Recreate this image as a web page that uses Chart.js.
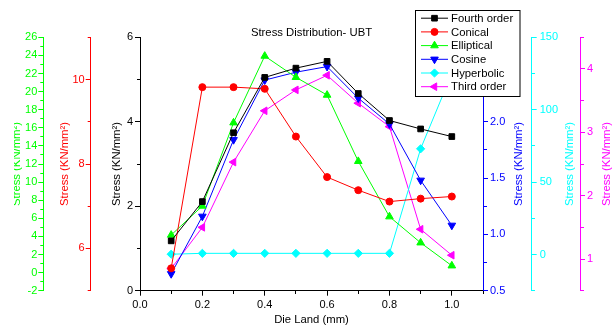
<!DOCTYPE html>
<html><head><meta charset="utf-8">
<script src="https://cdn.jsdelivr.net/npm/chart.js@4.4.0/dist/chart.umd.min.js"></script>
<style>html,body{margin:0;padding:0;background:#fff;overflow:hidden}#wrap{position:relative;width:613px;height:328px}</style>
</head><body><div id="wrap"><canvas id="c" width="613" height="328"></canvas></div>
<script>
// ---- data ----
const dieLand = [0.1, 0.2, 0.3, 0.4, 0.5, 0.6, 0.7, 0.8, 0.9, 1.0];
const fourthOrder = [1.18, 2.11, 3.74, 5.05, 5.27, 5.43, 4.67, 4.03, 3.83, 3.65];
const conical = [5.53, 9.82, 9.82, 9.78, 8.65, 7.69, 7.38, 7.11, 7.18, 7.23];
const elliptical = [4.15, 7.36, 16.56, 23.93, 21.58, 19.62, 12.3, 6.18, 3.3, 0.76];
const cosine = [0.65, 1.16, 1.84, 2.37, 2.44, 2.49, 2.21, 1.98, 1.48, 1.08];
const hyperbolic = [0.2, 0.8, 0.8, 0.8, 0.8, 0.8, 0.8, 0.8, 73, 125];
const thirdOrder = [0.85, 1.5, 2.53, 3.34, 3.67, 3.9, 3.46, 3.09, 1.47, 1.06];
const seriesNames = ['Fourth order', 'Conical', 'Elliptical', 'Cosine', 'Hyperbolic', 'Third order'];
const chartTitle = 'Stress Distribution- UBT';
const xTitle = 'Die Land (mm)';
const yTitle = 'Stress (KN/mm\u00B2)';
// axis ranges / ticks
const xTicks = [0, 0.1, 0.2, 0.3, 0.4, 0.5, 0.6, 0.7, 0.8, 0.9, 1.0, 1.1];
const xLabels = ['0.0', '', '0.2', '', '0.4', '', '0.6', '', '0.8', '', '1.0', ''];
const blackTicks = [0, 1, 2, 3, 4, 5, 6];
const blackLabels = ['0', '', '2', '', '4', '', '6'];
const redTicks = [5, 6, 7, 8, 9, 10, 11];
const redLabels = ['', '6', '', '8', '', '10', ''];
const greenTicks = [-2,-1,0,1,2,3,4,5,6,7,8,9,10,11,12,13,14,15,16,17,18,19,20,21,22,23,24,25,26];
const greenLabels = greenTicks.map(v => (v % 2 === 0 ? String(v) : ''));
const blueTicks = [0.5, 0.75, 1.0, 1.25, 1.5, 1.75, 2.0, 2.25, 2.5, 2.75];
const blueLabels = ['0.5', '', '1.0', '', '1.5', '', '2.0', '', '2.5', ''];
const cyanTicks = [-25, 0, 25, 50, 75, 100, 125, 150];
const cyanLabels = ['', '0', '', '50', '', '100', '', '150'];
const magentaTicks = [0.5, 1, 1.5, 2, 2.5, 3, 3.5, 4, 4.5];
const magentaLabels = ['', '1', '', '2', '', '3', '', '4', ''];

const FONT = '"Liberation Sans", Arial, Helvetica, sans-serif';
const C = { black:'#000000', red:'#ff0000', green:'#00ff00', blue:'#0000ff', cyan:'#00ffff', magenta:'#ff00ff' };

function yAxis(color, pos, weight, min, max, ticks, labels, width, pad) {
  return {
    type: 'linear', position: pos, weight: weight, min: min, max: max,
    afterBuildTicks: s => { s.ticks = ticks.map(v => ({ value: v })); },
    afterFit: s => { s.width = width; },
    ticks: {
      autoSkip: false, color: color, padding: pad,
      font: { family: FONT, size: 11 },
      callback: (v, i) => labels[i]
    },
    grid: {
      drawOnChartArea: false, tickLength: 5, tickColor: color, color: color,
      tickBorderDash: c => (c.tick && labels[c.index] === '' ? (pos === 'left' ? [0, 2, 3, 100] : [3, 100]) : [])
    },
    border: { color: color, width: 1 }
  };
}

function mk(arr, name, color, style, rot, r, axis) {
  return {
    label: name, yAxisID: axis,
    data: dieLand.map((x, i) => ({ x: x, y: arr[i] })),
    borderColor: color, backgroundColor: color, borderWidth: 1,
    pointStyle: style, pointRotation: rot, pointRadius: r, pointHoverRadius: r,
    pointBackgroundColor: color, pointBorderColor: color, pointBorderWidth: 1,
    fill: false, tension: 0
  };
}

const datasets = [
  mk(fourthOrder, seriesNames[0], C.black, 'rect', 0, 4.0, 'yBlack'),
  mk(conical, seriesNames[1], C.red, 'circle', 0, 3.5, 'yRed'),
  mk(elliptical, seriesNames[2], C.green, 'triangle', 0, 4.4, 'yGreen'),
  mk(cosine, seriesNames[3], C.blue, 'triangle', 180, 4.4, 'yBlue'),
  mk(hyperbolic, seriesNames[4], C.cyan, 'rectRot', 0, 4.1, 'yCyan'),
  mk(thirdOrder, seriesNames[5], C.magenta, 'triangle', -90, 4.4, 'yMagenta')
];

// title placement (style)
const axisTitleStyle = [
  { axis: 'yBlack', color: C.black, dx: -20.5 },
  { axis: 'yRed', color: C.red, dx: -22.7 },
  { axis: 'yGreen', color: C.green, dx: -23.8, clipLeft: 14 },
  { axis: 'yBlue', color: C.blue, dx: 38.5 },
  { axis: 'yCyan', color: C.cyan, dx: 41.3 },
  { axis: 'yMagenta', color: C.magenta, dx: 30 }
];

function drawMarker(ctx, ds, x, y) {
  const opts = { pointStyle: ds.pointStyle, rotation: ds.pointRotation, radius: ds.pointRadius, borderWidth: 1 };
  ctx.fillStyle = ds.pointBackgroundColor; ctx.strokeStyle = ds.pointBorderColor; ctx.lineWidth = 1;
  Chart.helpers.drawPoint(ctx, opts, x, y);
}

const deco = {
  id: 'deco',
  afterDraw(chart) {
    const ctx = chart.ctx, a = chart.chartArea;
    const cx = (a.left + a.right) / 2, cy = (a.top + a.bottom) / 2;
    ctx.save();
    ctx.font = '11.3px ' + FONT;
    ctx.fillStyle = '#000';
    ctx.textAlign = 'center'; ctx.textBaseline = 'alphabetic';
    ctx.fillText(chartTitle, cx, a.top - 1.0);
    ctx.fillText(xTitle, cx, 323);
    axisTitleStyle.forEach(t => {
      const s = chart.scales[t.axis];
      const axX = s.position === 'left' ? s.right : s.left;
      ctx.save();
      if (t.clipLeft) { ctx.beginPath(); ctx.rect(t.clipLeft, 0, 613, 328); ctx.clip(); }
      ctx.translate(axX + t.dx, cy);
      ctx.rotate(-Math.PI / 2);
      ctx.fillStyle = t.color;
      ctx.textAlign = 'center'; ctx.textBaseline = 'alphabetic';
      ctx.fillText(yTitle, 0, 0);
      ctx.restore();
    });
    // legend
    const L = { x: 415, y: 10, w: 104.5, h: 86, row: 13.7, first: 18.2 };
    ctx.fillStyle = '#fff';
    ctx.fillRect(L.x, L.y, L.w, L.h);
    ctx.strokeStyle = '#000'; ctx.lineWidth = 1;
    ctx.strokeRect(L.x + 0.5, L.y + 0.5, L.w, L.h);
    chart.data.datasets.forEach((ds, i) => {
      const y = L.first + i * L.row;
      ctx.strokeStyle = ds.borderColor; ctx.lineWidth = 1;
      ctx.beginPath(); ctx.moveTo(L.x + 6, y); ctx.lineTo(L.x + 33, y); ctx.stroke();
      drawMarker(ctx, ds, L.x + 19.5, y);
      ctx.fillStyle = '#000'; ctx.font = '11.3px ' + FONT;
      ctx.textAlign = 'left'; ctx.textBaseline = 'middle';
      ctx.fillText(ds.label, L.x + 36, y + 0.5);
    });
    ctx.restore();
  }
};

new Chart(document.getElementById('c'), {
  type: 'line',
  data: { datasets: datasets },
  options: {
    responsive: false, animation: false, devicePixelRatio: 1,
    layout: { padding: { top: 37.3, left: 0, right: 0, bottom: 0 } },
    plugins: { legend: { display: false }, tooltip: { enabled: false }, title: { display: false } },
    scales: {
      x: {
        type: 'linear', position: 'bottom', min: 0, max: 1.1,
        afterBuildTicks: s => { s.ticks = xTicks.map(v => ({ value: v })); },
        afterFit: s => { s.height = 37.3; },
        ticks: { autoSkip: false, maxRotation: 0, color: '#000', padding: 3, font: { family: FONT, size: 11 },
                 callback: (v, i) => xLabels[i] },
        grid: { drawOnChartArea: false, tickLength: 5, tickColor: '#000', color: '#000',
                tickBorderDash: c => (c.tick && xLabels[c.index] === '' ? [3, 100] : []) },
        border: { color: '#000', width: 1 }
      },
      yBlack: yAxis(C.black, 'left', 0, 0, 6, blackTicks, blackLabels, 49.3, 2),
      yRed: yAxis(C.red, 'left', 1, 5, 11, redTicks, redLabels, 47.4, 1),
      yGreen: yAxis(C.green, 'left', 2, -2, 26, greenTicks, greenLabels, 43.3, 1),
      yBlue: yAxis(C.blue, 'right', 0, 0.5, 2.75, blueTicks, blueLabels, 48.7, 2),
      yCyan: yAxis(C.cyan, 'right', 1, -25, 150, cyanTicks, cyanLabels, 48.3, 3),
      yMagenta: yAxis(C.magenta, 'right', 2, 0.5, 4.5, magentaTicks, magentaLabels, 33, 2)
    }
  },
  plugins: [deco]
});
</script>
</body></html>
